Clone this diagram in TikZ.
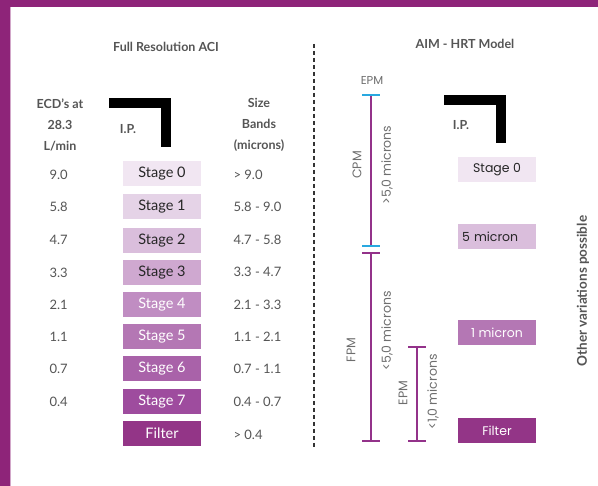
\documentclass[tikz,border=0pt]{standalone}
\usepackage{fontspec}
\setmainfont{Lato}
\newfontfamily\popfont{Poppins}
\definecolor{frame}{HTML}{8E2479}
\definecolor{txt}{HTML}{555555}
\definecolor{sA}{HTML}{F1E6F2}
\definecolor{sB}{HTML}{E5D3E7}
\definecolor{sC}{HTML}{DABEDC}
\definecolor{sD}{HTML}{CFA8D0}
\definecolor{sE}{HTML}{C08DC2}
\definecolor{sF}{HTML}{B477B4}
\definecolor{sG}{HTML}{A962A9}
\definecolor{sH}{HTML}{9E4C9E}
\definecolor{sI}{HTML}{933587}
\definecolor{barpurple}{HTML}{93328A}
\definecolor{tickblue}{HTML}{29A8E0}
\begin{document}
\begin{tikzpicture}[x=1pt,y=-1pt,
  stagebox/.style={minimum width=78pt,minimum height=25pt,inner sep=0pt,font=\fontsize{14.5}{14.5}\selectfont},
  numtxt/.style={anchor=west,text=txt,font=\fontsize{13}{13}\selectfont},
  headtxt/.style={text=txt,font=\bfseries\fontsize{12.5}{12.5}\selectfont},
  bartxt/.style={text=txt!85,font=\popfont\fontsize{12.5}{12.5}\selectfont,rotate=90},
  ipbar/.style={fill=black},
  purplebar/.style={draw=barpurple,line width=2.6pt},
  bluetick/.style={draw=tickblue,line width=2pt},
  purpletick/.style={draw=barpurple,line width=2pt}]
\useasboundingbox (0,0) rectangle (598,486);
\fill[white] (0,0) rectangle (598,486);
% frame
\fill[frame] (0,0) rectangle (598,7);
\fill[frame] (0,0) rectangle (10,486);
\fill[frame!40] (10,7) rectangle (11,486);
% divider
\coordinate (dtop) at (314,44);
\coordinate (dbot) at (314,447);
\draw[line width=1.8pt,dash pattern=on 4pt off 3pt,color=black!80] (dtop) -- (dbot);
% headings
\node[headtxt] (h1) at (166,47) {Full Resolution ACI};
\node[headtxt] (h2) at (465,44) {AIM - HRT Model};
\node[headtxt,align=center,font=\bfseries\fontsize{12.5}{21}\selectfont] (ecd) at (60,125) {ECD’s at\\28.3\\L/min};
\node[headtxt,align=center,font=\bfseries\fontsize{12.5}{21}\selectfont] (size) at (259,125) {Size\\Bands\\(microns)};
% left IP
\fill[ipbar] (109,98) rectangle (171,108);
\fill[ipbar] (161,98) rectangle (171,147);
\node[headtxt] (ip1) at (128,129) {I.P.};
% right IP
\fill[ipbar] (444,95) rectangle (506,105);
\fill[ipbar] (496,95) rectangle (506,143);
\node[headtxt] (ip2) at (461,125) {I.P.};
% stages left
\node[stagebox,fill=sA,text=black!85] (s0) at (162,173.5) {Stage 0};
\node[stagebox,fill=sB,text=black!85] (s1) at (162,206.5) {Stage 1};
\node[stagebox,fill=sC,text=black!85] (s2) at (162,240.5) {Stage 2};
\node[stagebox,fill=sD,text=black!85] (s3) at (162,272.5) {Stage 3};
\node[stagebox,fill=sE,text=white] (s4) at (162,304.5) {Stage 4};
\node[stagebox,fill=sF,text=white] (s5) at (162,336.5) {Stage 5};
\node[stagebox,fill=sG,text=white] (s6) at (162,368.5) {Stage 6};
\node[stagebox,fill=sH,text=white] (s7) at (162,401.5) {Stage 7};
\node[stagebox,fill=sI,text=white] (sf) at (162,433.5) {Filter};
% ECD values
\node[numtxt] (e0) at (46,175) {9.0};
\node[numtxt] (e1) at (46,207) {5.8};
\node[numtxt] (e2) at (46,240) {4.7};
\node[numtxt] (e3) at (46,273) {3.3};
\node[numtxt] (e4) at (46,305) {2.1};
\node[numtxt] (e5) at (46,337) {1.1};
\node[numtxt] (e6) at (46,369) {0.7};
\node[numtxt] (e7) at (46,402) {0.4};
% size bands
\node[numtxt] (b0) at (230,175) {> 9.0};
\node[numtxt] (b1) at (230,207) {5.8 - 9.0};
\node[numtxt] (b2) at (230,240) {4.7 - 5.8};
\node[numtxt] (b3) at (230,272) {3.3 - 4.7};
\node[numtxt] (b4) at (230,305) {2.1 - 3.3};
\node[numtxt] (b5) at (230,337) {1.1 - 2.1};
\node[numtxt] (b6) at (230,369) {0.7 - 1.1};
\node[numtxt] (b7) at (230,402) {0.4 - 0.7};
\node[numtxt] (b8) at (230,435) {> 0.4};
% right stages
\node[stagebox,fill=sA,text=black!85,font=\popfont\fontsize{12.5}{12.5}\selectfont] (r0) at (497,169.5) {Stage 0};
\node[stagebox,fill=sC,text=black!85,font=\popfont\fontsize{12.5}{12.5}\selectfont,text width=70pt,align=left] (r1) at (497,236.5) {5 micron};
\node[stagebox,fill=sF,text=white,font=\popfont\fontsize{12.5}{12.5}\selectfont] (r2) at (497,332.5) {1 micron};
\node[stagebox,fill=sI,text=white,font=\popfont\fontsize{12.5}{12.5}\selectfont] (r3) at (497,430.5) {Filter};
% bars
\coordinate (c1) at (371,95);
\coordinate (c2) at (371,246);
\coordinate (f1) at (371,253);
\coordinate (f2) at (371,441);
\coordinate (g1) at (417,347);
\coordinate (g2) at (417,441);
\draw[purplebar] (c1) -- (c2);
\draw[purplebar] (f1) -- (f2);
\draw[purplebar] (g1) -- (g2);
\draw[bluetick] ([xshift=-9pt]c1) -- ([xshift=9pt]c1);
\draw[bluetick] ([xshift=-9pt]c2) -- ([xshift=9pt]c2);
\draw[purpletick] ([xshift=-9pt]f1) -- ([xshift=9pt]f1);
\draw[purpletick] ([xshift=-9pt]f2) -- ([xshift=9pt]f2);
\draw[purpletick] ([xshift=-9pt]g1) -- ([xshift=9pt]g1);
\draw[purpletick] ([xshift=-9pt]g2) -- ([xshift=9pt]g2);
\node[text=txt!85,font=\popfont\fontsize{11.5}{11.5}\selectfont] (epm1) at (372,80) {EPM};
\node[bartxt] (cpm) at (357,165) {CPM};
\node[bartxt] (gt5) at (387,165) {>5,0 microns};
\node[bartxt] (fpm) at (351,350) {FPM};
\node[bartxt] (lt5) at (387,331) {<5,0 microns};
\node[bartxt] (epm2) at (403,393) {EPM};
\node[bartxt] (lt1) at (433,392) {<1,0 microns};
\node[headtxt,rotate=90,font=\bfseries\fontsize{13.5}{13.5}\selectfont] (other) at (583,291) {Other variations possible};
\end{tikzpicture}
\end{document}
